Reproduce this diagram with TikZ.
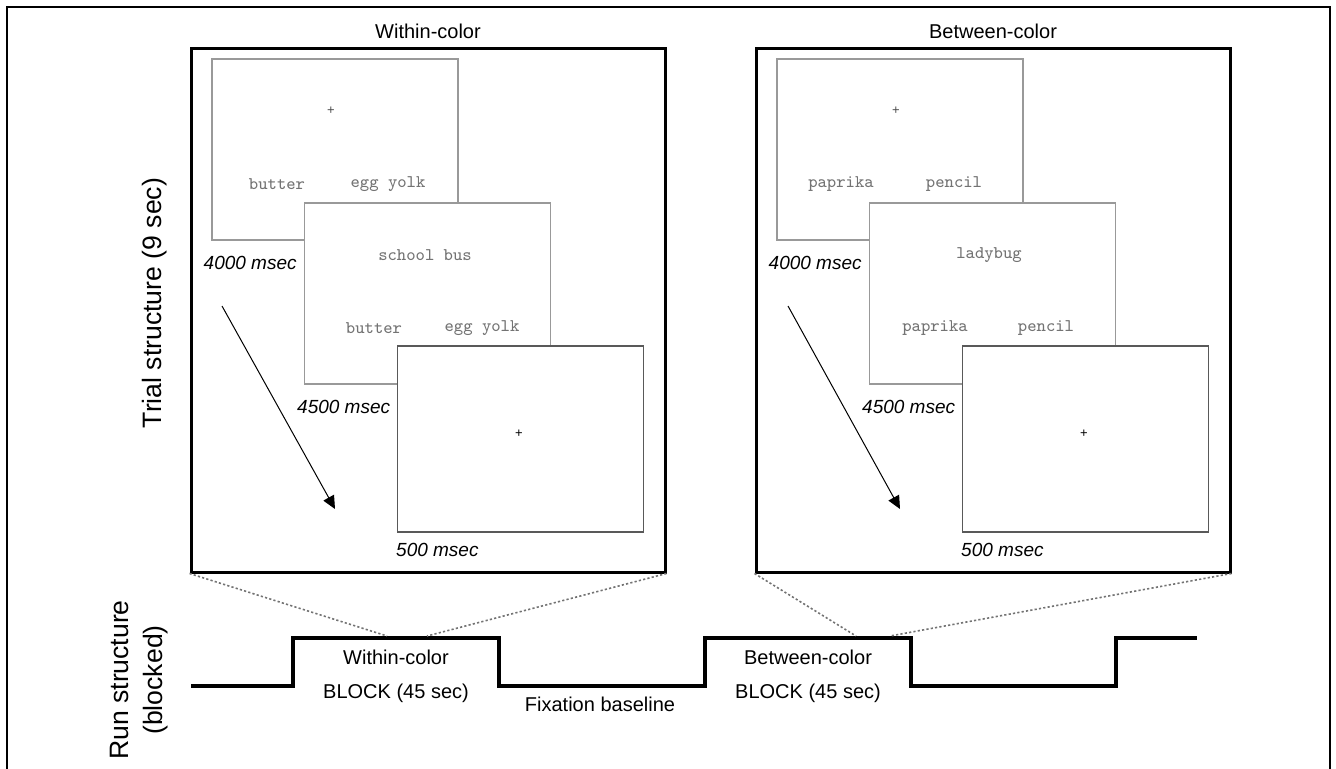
\documentclass[tikz,border=0pt]{standalone}
\usepackage{fontspec}
\setmainfont{Liberation Sans}
\setsansfont{Liberation Sans}
\usetikzlibrary{positioning,arrows.meta,calc}
\tikzset{
  panel/.style ={draw, line width=1.5pt, minimum width=237pt,
                 minimum height=261.5pt, inner sep=0pt},
  screen/.style={draw=black!40, fill=white, line width=0.7pt, inner sep=0pt,
                 minimum width=123pt, minimum height=90.5pt},
  blank/.style ={screen, draw=black!65, minimum height=93pt},
  word/.style  ={font=\ttfamily\fontsize{8.9}{10}\selectfont, text=black!55, inner sep=0pt},
  cross/.style ={font=\fontsize{6.5}{6.5}\selectfont, text=black!70, inner sep=0pt},
  dur/.style   ={font=\itshape\fontsize{9.5}{11}\selectfont, anchor=west, inner sep=0pt},
  ttl/.style   ={font=\fontsize{10}{12}\selectfont, inner sep=0pt},
  axis/.style  ={font=\fontsize{13.3}{17}\selectfont, rotate=90, align=center, inner sep=0pt},
  time/.style  ={-{Triangle[length=6.5pt, width=6pt]}, line width=0.5pt},
  zoomln/.style={dash pattern=on 1.1pt off 1.1pt, draw=black!55, line width=0.8pt},
  wave/.style  ={line width=2pt}
}

\begin{document}
\begin{tikzpicture}[x=0.5pt, y=-0.5pt]
  \useasboundingbox (0,0) rectangle (1336,769);
  % outer frame, open at the bottom
  \draw[line width=1pt] (7,769) -- (7,7) -- (1330,7) -- (1330,769);

  \node[axis] (trial) at (155,303) {Trial structure (9 sec)};
  \node[axis] (run) at (139,680) {Run structure\\(blocked)};

  % within-color trial
  \node[ttl] (wtitle) at (428,31) {Within-color};
  \node[panel] (wp) at (428,310.5) {};
  \node[screen] (w1) at (335,149.5) {};
  \node[cross] (w1c) at (331,111) {+};
  \node[word] (w1a) at (277,184) {butter};
  \node[word] (w1b) at (388,184) {egg yolk};
  \node[dur] (w1t) at ($(w1.south west)+(-8,22)$) {4000 msec};
  \node[screen] (w2) at (427.5,293.5) {};
  \node[word] (w2q) at (425,255) {school bus};
  \node[word] (w2a) at (374,328) {butter};
  \node[word] (w2b) at (482,328) {egg yolk};
  \node[dur] (w2t) at ($(w2.south west)+(-7,22)$) {4500 msec};
  \node[blank] (w3) at (520.5,439) {};
  \node[cross, text=black] (w3c) at (519,434) {+};
  \node[dur] (w3t) at ($(w3.south west)+(-1,17)$) {500 msec};
  \coordinate (wa0) at (222,306);
  \coordinate (wa1) at (335,509);
  \draw[time] (wa0) -- (wa1);

  % between-color trial
  \node[ttl] (btitle) at (993,31) {Between-color};
  \node[panel] (bp) at (993,310.5) {};
  \node[screen] (b1) at (900,149.5) {};
  \node[cross] (b1c) at (896,111) {+};
  \node[word] (b1a) at (841,184) {paprika};
  \node[word] (b1b) at (954,184) {pencil};
  \node[dur] (b1t) at ($(b1.south west)+(-8,22)$) {4000 msec};
  \node[screen] (b2) at (992.5,293.5) {};
  \node[word] (b2q) at (989,255) {ladybug};
  \node[word] (b2a) at (935,328) {paprika};
  \node[word] (b2b) at (1046,328) {pencil};
  \node[dur] (b2t) at ($(b2.south west)+(-7,22)$) {4500 msec};
  \node[blank] (b3) at (1085.5,439) {};
  \node[cross, text=black] (b3c) at (1084,434) {+};
  \node[dur] (b3t) at ($(b3.south west)+(-1,17)$) {500 msec};
  \coordinate (ba0) at (788,306);
  \coordinate (ba1) at (900,509);
  \draw[time] (ba0) -- (ba1);

  % run structure
  \draw[wave] (191,686) -- (293,686) -- (293,638) -- (499,638) -- (499,686)
        -- (705,686) -- (705,638) -- (911,638) -- (911,686) -- (1116,686)
        -- (1116,638) -- (1197,638);
  \coordinate (wz0) at (387,636);
  \coordinate (wz1) at (427,636);
  \coordinate (bz0) at (856,636);
  \coordinate (bz1) at (890,636);
  \draw[zoomln] (wp.south west) -- (wz0);
  \draw[zoomln] (wp.south east) -- (wz1);
  \draw[zoomln] (bp.south west) -- (bz0);
  \draw[zoomln] (bp.south east) -- (bz1);

  \node[ttl] (wblk) at (396,657) {Within-color};
  \node[ttl] (wsec) at (396,693) {BLOCK (45 sec)};
  \node[ttl] (fixb) at (600,704) {Fixation baseline};
  \node[ttl] (bblk) at (808,657) {Between-color};
  \node[ttl] (bsec) at (808,693) {BLOCK (45 sec)};
\end{tikzpicture}
\end{document}
